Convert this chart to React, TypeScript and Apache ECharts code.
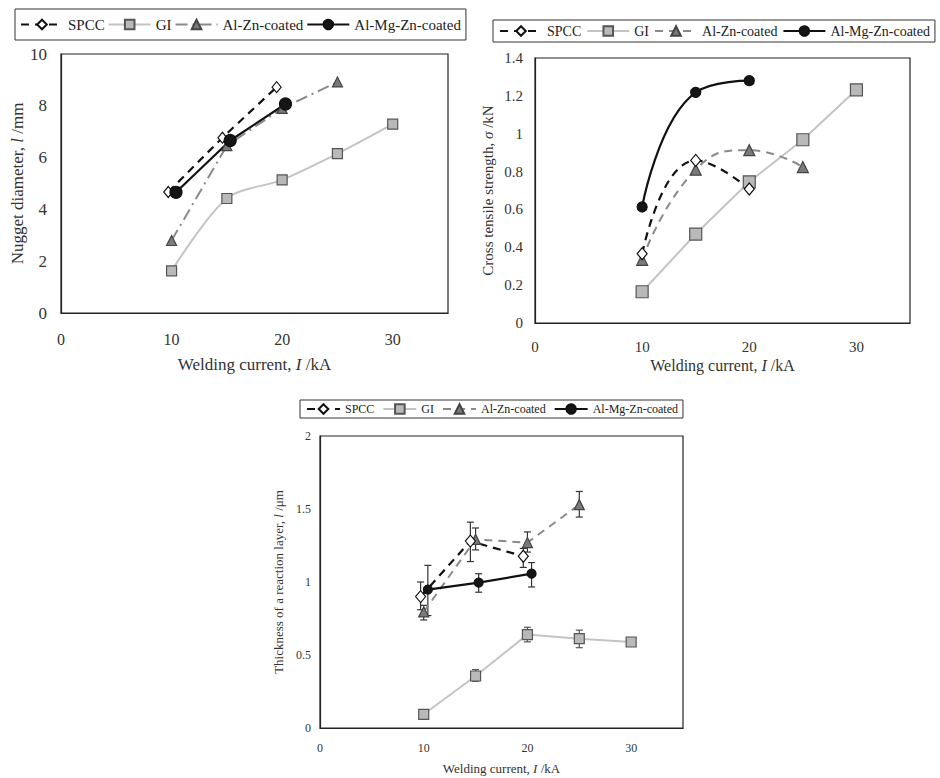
import React, { useEffect, useRef } from "react";
import * as echarts from "echarts";

// ---------- Data ----------
const LEGEND_NAMES = ["SPCC", "GI", "Al-Zn-coated", "Al-Mg-Zn-coated"];

// Chart 1: Nugget diameter (mm)
const SPCC_X1 = [9.7, 14.6, 19.5];
const SPCC_Y1 = [4.67, 6.77, 8.72];
const GI_X1 = [10, 15, 20, 25, 30];
const GI_Y1 = [1.63, 4.42, 5.14, 6.15, 7.29];
const ALZN_X1 = [10, 15, 20, 25];
const ALZN_Y1 = [2.8, 6.46, 7.9, 8.92];
const ALMGZN_X1 = [10.4, 15.3, 20.3];
const ALMGZN_Y1 = [4.66, 6.66, 8.07];

// Chart 2: Cross tensile strength (kN)
const SPCC_X2 = [10, 15, 20];
const SPCC_Y2 = [0.366, 0.859, 0.708];
const GI_X2 = [10, 15, 20, 25, 30];
const GI_Y2 = [0.165, 0.47, 0.746, 0.968, 1.232];
const ALZN_X2 = [10, 15, 20, 25];
const ALZN_Y2 = [0.334, 0.81, 0.913, 0.824];
const ALMGZN_X2 = [10, 15, 20];
const ALMGZN_Y2 = [0.613, 1.218, 1.28];

// Chart 3: Thickness of a reaction layer (um) with error bars
const SPCC_X3 = [9.7, 14.5, 19.6];
const SPCC_Y3 = [0.9, 1.28, 1.176];
const SPCC_LO3 = [0.81, 1.14, 1.1];
const SPCC_HI3 = [1.0, 1.41, 1.23];
const GI_X3 = [10, 15, 20, 25, 30];
const GI_Y3 = [0.094, 0.356, 0.64, 0.612, 0.589];
const GI_LO3 = [0.08, 0.32, 0.59, 0.55, 0.57];
const GI_HI3 = [0.11, 0.4, 0.69, 0.67, 0.61];
const ALZN_X3 = [10, 15, 20, 25];
const ALZN_Y3 = [0.795, 1.292, 1.27, 1.53];
const ALZN_LO3 = [0.74, 1.22, 1.205, 1.445];
const ALZN_HI3 = [0.84, 1.37, 1.343, 1.62];
const ALMGZN_X3 = [10.4, 15.3, 20.4];
const ALMGZN_Y3 = [0.948, 0.996, 1.057];
const ALMGZN_LO3 = [0.77, 0.93, 0.966];
const ALMGZN_HI3 = [1.114, 1.057, 1.133];

// ---------- Helpers ----------
const zip = (xs: number[], ys: number[]) => xs.map((x, i) => [x, ys[i]]);
const zip3 = (xs: number[], lo: number[], hi: number[]) =>
  xs.map((x, i) => [x, lo[i], hi[i]]);

const FONT = "'Liberation Serif', 'Times New Roman', serif";

type StyleDef = {
  lineColor: string;
  lineType: any;
  lineWidth: number;
  symbol: string;
  symbolSize: any;
  fill: string;
  border: string;
};

const STYLES = (chart: number): StyleDef[] => [
  {
    lineColor: "#111",
    lineType: [8, 6],
    lineWidth: 2.2,
    symbol: "diamond",
    symbolSize: chart === 1 ? [9, 11] : [10, 12],
    fill: "#fff",
    border: "#111",
  },
  {
    lineColor: "#c4c4c4",
    lineType: "solid",
    lineWidth: 2,
    symbol: "rect",
    symbolSize: chart === 2 ? 12 : 10,
    fill: "#b9b9b9",
    border: "#555",
  },
  {
    lineColor: "#8a8a8a",
    lineType: chart === 1 ? [12, 5, 2, 5] : [8, 6],
    lineWidth: 2,
    symbol: "triangle",
    symbolSize: chart === 2 ? 11 : 10,
    fill: "#7a7a7a",
    border: "#444",
  },
  {
    lineColor: "#111",
    lineType: "solid",
    lineWidth: 2.2,
    symbol: "circle",
    symbolSize: chart === 1 ? 12 : chart === 2 ? 10 : 9,
    fill: "#151515",
    border: "#111",
  },
];

function lineSeries(
  chart: number,
  idx: number,
  data: number[][],
  smooth: number | boolean
) {
  const s = STYLES(chart)[idx];
  return {
    type: "line",
    name: LEGEND_NAMES[idx] + "#" + chart,
    xAxisIndex: chart - 1,
    yAxisIndex: chart - 1,
    data,
    smooth,
    symbol: s.symbol,
    symbolSize: s.symbolSize,
    showAllSymbol: true,
    z: 3,
    lineStyle: { color: s.lineColor, type: s.lineType, width: s.lineWidth },
    itemStyle: { color: s.fill, borderColor: s.border, borderWidth: 1.2 },
    emphasis: { disabled: true },
  };
}

function errorSeries(idx: number, data: number[][]) {
  const color = idx === 1 ? "#555" : "#333";
  return {
    type: "custom",
    name: LEGEND_NAMES[idx] + " error",
    xAxisIndex: 2,
    yAxisIndex: 2,
    data,
    z: 2,
    encode: { x: 0, y: [1, 2] },
    renderItem: (_params: any, api: any) => {
      const x = api.value(0);
      const lo = api.coord([x, api.value(1)]);
      const hi = api.coord([x, api.value(2)]);
      const cap = 3.5;
      const style = { stroke: color, lineWidth: 1.2 };
      return {
        type: "group",
        children: [
          { type: "line", shape: { x1: lo[0], y1: lo[1], x2: hi[0], y2: hi[1] }, style },
          { type: "line", shape: { x1: lo[0] - cap, y1: lo[1], x2: lo[0] + cap, y2: lo[1] }, style },
          { type: "line", shape: { x1: hi[0] - cap, y1: hi[1], x2: hi[0] + cap, y2: hi[1] }, style },
        ],
      };
    },
  };
}

function xAxis(idx: number, fontSize: number, margin: number, nameGap: number) {
  return {
    type: "value",
    gridIndex: idx,
    min: 0,
    max: 35,
    interval: 10,
    name: "Welding current, {i|I} /kA",
    nameLocation: "middle",
    nameGap,
    nameTextStyle: {
      fontFamily: FONT,
      fontSize: fontSize + 1,
      color: "#333",
      rich: { i: { fontStyle: "italic", fontFamily: FONT, fontSize: fontSize + 1, color: "#333" } },
    },
    axisLine: { show: true, onZero: false, lineStyle: { color: "#222", width: 1.2 } },
    axisTick: { show: false },
    splitLine: { show: false },
    axisLabel: {
      fontFamily: FONT,
      fontSize,
      color: "#333",
      margin,
      showMaxLabel: false,
    },
  };
}

function yAxis(
  idx: number,
  max: number,
  interval: number,
  name: string,
  fontSize: number,
  margin: number,
  nameGap: number,
  nameSize: number
) {
  return {
    type: "value",
    gridIndex: idx,
    min: 0,
    max,
    interval,
    name,
    nameLocation: "middle",
    nameRotate: 90,
    nameGap,
    nameTextStyle: {
      fontFamily: FONT,
      fontSize: nameSize,
      color: "#333",
      rich: { i: { fontStyle: "italic", fontFamily: FONT, fontSize: nameSize, color: "#333" } },
    },
    axisLine: { show: true, onZero: false, lineStyle: { color: "#222", width: 1.2 } },
    axisTick: { show: false },
    splitLine: { show: false },
    axisLabel: { fontFamily: FONT, fontSize, color: "#333", margin, showMaxLabel: true },
  };
}

function legend(
  chart: number,
  left: number,
  top: number,
  width: number,
  fontSize: number,
  itemWidth: number,
  itemGap: number,
  padding: number[]
) {
  return {
    show: true,
    orient: "horizontal",
    left,
    top,
    width,
    data: LEGEND_NAMES.map((n) => n + "#" + chart),
    formatter: (name: string) => name.replace(/#\d$/, ""),
    itemWidth,
    itemHeight: 12,
    itemGap,
    padding,
    borderColor: "#333",
    borderWidth: 1,
    backgroundColor: "#fff",
    selectedMode: false,
    textStyle: { fontFamily: FONT, fontSize, color: "#222" },
  };
}

export default function App() {
  const ref = useRef<HTMLDivElement>(null);

  useEffect(() => {
    document.body.style.margin = "0";
    if (!ref.current) return;
    const chart = echarts.init(ref.current, undefined, { renderer: "svg" });

    const option: any = {
      animation: false,
      backgroundColor: "#fff",
      textStyle: { fontFamily: FONT },
      legend: [
        legend(1, 15, 9, 480, 15, 42, 3, [8, 5, 8, 5]),
        legend(2, 493, 20, 480, 14, 42, 5, [4, 5, 4, 6]),
        legend(3, 300, 400, 400, 12, 33, 8, [3, 5, 3, 6]),
      ],
      grid: [
        { left: 61, top: 54, width: 387, height: 259, show: true, borderColor: "#222", borderWidth: 1.2, backgroundColor: "transparent" },
        { left: 535, top: 58, width: 375, height: 265, show: true, borderColor: "#222", borderWidth: 1.2, backgroundColor: "transparent" },
        { left: 320, top: 436, width: 363, height: 292, show: true, borderColor: "#222", borderWidth: 1.2, backgroundColor: "transparent" },
      ],
      xAxis: [xAxis(0, 16, 18, 43), xAxis(1, 15, 16, 34), xAxis(2, 12, 14, 34)],
      yAxis: [
        yAxis(0, 10, 2, "Nugget diameter, {i|l} /mm", 17, 14, 34, 17),
        yAxis(1, 1.4, 0.2, "Cross tensile strength, {i|σ} /kN", 15, 12, 40, 15),
        yAxis(2, 2, 0.5, "Thickness of a reaction layer, {i|l} /μm", 12, 9, 35, 13),
      ],
      series: [
        lineSeries(1, 1, zip(GI_X1, GI_Y1), 0.3),
        lineSeries(1, 2, zip(ALZN_X1, ALZN_Y1), false),
        lineSeries(1, 0, zip(SPCC_X1, SPCC_Y1), false),
        lineSeries(1, 3, zip(ALMGZN_X1, ALMGZN_Y1), false),

        lineSeries(2, 1, zip(GI_X2, GI_Y2), false),
        lineSeries(2, 2, zip(ALZN_X2, ALZN_Y2), 0.5),
        lineSeries(2, 0, zip(SPCC_X2, SPCC_Y2), 0.5),
        lineSeries(2, 3, zip(ALMGZN_X2, ALMGZN_Y2), 0.5),

        lineSeries(3, 1, zip(GI_X3, GI_Y3), false),
        lineSeries(3, 2, zip(ALZN_X3, ALZN_Y3), false),
        lineSeries(3, 0, zip(SPCC_X3, SPCC_Y3), false),
        lineSeries(3, 3, zip(ALMGZN_X3, ALMGZN_Y3), false),
        errorSeries(1, zip3(GI_X3, GI_LO3, GI_HI3)),
        errorSeries(2, zip3(ALZN_X3, ALZN_LO3, ALZN_HI3)),
        errorSeries(0, zip3(SPCC_X3, SPCC_LO3, SPCC_HI3)),
        errorSeries(3, zip3(ALMGZN_X3, ALMGZN_LO3, ALMGZN_HI3)),
      ],
    };
    chart.setOption(option);
    return () => chart.dispose();
  }, []);

  return <div ref={ref} style={{ width: 940, height: 778 }} />;
}
